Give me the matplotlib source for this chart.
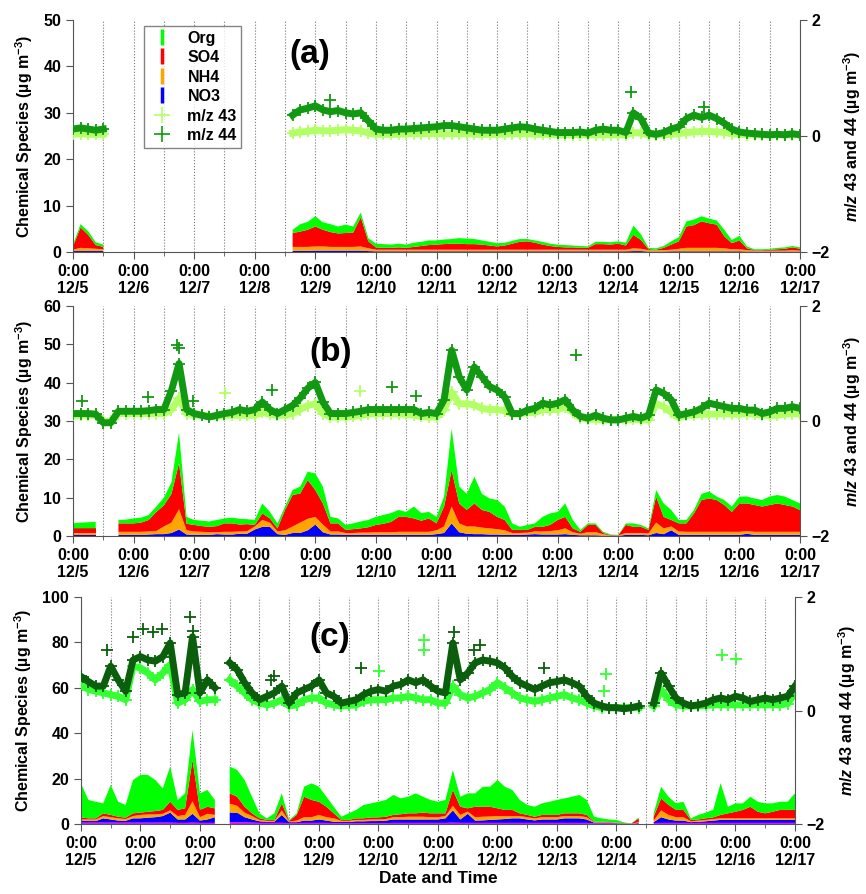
import numpy as np
import matplotlib.pyplot as plt
from matplotlib.lines import Line2D

plt.rcParams['font.family'] = ['Liberation Sans', 'DejaVu Sans']
plt.rcParams['font.weight'] = 'bold'
plt.rcParams['mathtext.fontset'] = 'custom'
plt.rcParams['mathtext.rm'] = 'Liberation Sans:bold'
plt.rcParams['mathtext.it'] = 'Liberation Sans:italic:bold'
plt.rcParams['mathtext.bf'] = 'Liberation Sans:bold'

n = np.nan

# time axis: hours since 12/5 0:00, one value every 3 h
hours = np.arange(0, 289, 3)
day_labels = ['12/%d' % d for d in range(5, 18)]

# ---------------- panel (a) ----------------
a_no3 = [.2, .2, .2, .2, .2, n, n, n,
         n, n, n, n, n, n, n, n,
         n, n, n, n, n, n, n, n,
         n, n, n, n, n, .25, .25, .25,
         .3, .3, .3, .3, .3, .3, .3, .2,
         .15, .15, .15, .15, .15, .15, .15, .15,
         .15, .15, .15, .15, .15, .15, .15, .15,
         .15, .15, .15, .15, .15, .15, .15, .15,
         .15, .15, .15, .15, .15, .15, .15, .15,
         .15, .15, .2, .2, .1, .1, .1, .15,
         .15, .15, .15, .15, .15, .15, .15, .15,
         .15, .1, .1, .1, .1, .1, .1, .1, .1]
a_nh4 = [.3, .7, .6, .5, .4, n, n, n,
         n, n, n, n, n, n, n, n,
         n, n, n, n, n, n, n, n,
         n, n, n, n, n, .85, .85, .85,
         .9, .9, .8, .8, .8, .8, .9, .6,
         .35, .35, .35, .35, .35, .35, .35, .35,
         .35, .35, .35, .35, .35, .35, .35, .35,
         .35, .35, .35, .35, .35, .35, .35, .35,
         .35, .35, .35, .35, .35, .35, .35, .35,
         .35, .35, .6, .5, .3, .3, .3, .35,
         .55, .75, .75, .75, .75, .75, .65, .45,
         .45, .3, .2, .2, .2, .2, .2, .3, .2]
a_so4 = [.7, 4.4, 2.9, .8, .5, n, n, n,
         n, n, n, n, n, n, n, n,
         n, n, n, n, n, n, n, n,
         n, n, n, n, n, 3.0, 3.3, 3.7,
         4.3, 3.6, 3.2, 2.9, 3.0, 3.1, 6.3, 1.5,
         .5, .4, .4, .5, .4, .6, .8, 1.0,
         1.1, 1.2, 1.3, 1.3, 1.2, 1.2, 1.1, .9,
         .7, .9, 1.3, 1.7, 1.8, 1.5, 1.1, .8,
         .6, .5, .5, .4, .4, 1.2, 1.2, 1.1,
         1.3, .9, 2.9, 1.9, .2, .1, .5, 1.1,
         1.6, 4.6, 4.9, 5.7, 5.3, 5.0, 2.6, 1.3,
         1.9, .4, .1, .1, .2, .3, .4, .6, .4]
a_org = [.4, .7, .8, .6, .5, n, n, n,
         n, n, n, n, n, n, n, n,
         n, n, n, n, n, n, n, n,
         n, n, n, n, n, .7, 1.6, 1.7,
         2.2, 1.6, 1.7, 1.5, 1.8, 1.3, 1.0, .7,
         .8, .8, .7, .8, .7, .9, .9, 1.0,
         .9, 1.0, 1.0, 1.2, 1.2, 1.1, .9, .8,
         .7, .6, .6, .6, .5, .5, .6, .5,
         .5, .5, .4, .4, .3, .5, .5, .5,
         .5, .6, 2.0, 1.2, .3, .3, .4, .7,
         .9, 1.1, 1.2, 1.1, 1.0, .9, 1.4, .7,
         1.0, .4, .2, .2, .2, .3, .3, .3, .3]
a_mz43 = [.03, .04, .03, .03, .03, n, n, n,
          n, n, n, n, n, n, n, n,
          n, n, n, n, n, n, n, n,
          n, n, n, n, n, .05, .07, .08,
          .1, .09, .09, .1, .11, .1, .09, .05,
          .03, .03, .03, .03, .04, .04, .04, .04,
          .04, .04, .04, .04, .04, .03, .03, .03,
          .03, .03, .04, .04, .04, .03, .03, .03,
          .02, .02, .02, .02, .02, .02, .02, .02,
          .02, .02, .06, .05, .02, .02, .02, .03,
          .04, .06, .07, .08, .08, .07, .06, .04,
          .03, .02, .02, .02, .02, .02, .02, .02, .02]
a_mz44 = [.12, .14, .12, .1, .12, n, n, n,
          n, n, n, n, n, n, n, n,
          n, n, n, n, n, n, n, n,
          n, n, n, n, n, .36, .45, .48,
          .52, .45, .42, .44, .4, .38, .4, .26,
          .12, .1, .1, .12, .12, .13, .14, .15,
          .16, .18, .18, .16, .14, .12, .1, .1,
          .1, .12, .14, .16, .15, .12, .1, .08,
          .06, .06, .06, .07, .05, .1, .12, .1,
          .1, .06, .4, .3, .05, .03, .06, .12,
          .16, .3, .36, .32, .36, .3, .22, .12,
          .07, .05, .04, .03, .02, .03, .02, .04, .02]
a_out44_h = [221, 102, 250]
a_out44_v = [.76, .62, .5]

# ---------------- panel (b) ----------------
b_no3 = [.3, .3, .3, .3, n, n, .3, .3,
         .3, .3, .4, .5, .5, .8, 1.7, .4,
         .3, .3, .3, .5, .4, .4, .6, .6,
         1.7, 2.4, 2.4, .5, .3, .8, .8, 1.5,
         3, 1, .4, .4, .3, .3, .3, .3,
         .3, .3, .3, .3, .3, .3, .3, .3,
         .5, .8, 3.3, 1, .6, .5, .5, .4,
         .4, .3, .3, .3, .4, .5, .4, .4,
         .4, .5, .3, .2, .2, .2, .1, .1,
         .05, .3, .3, .3, .2, .8, .5, 1.5,
         .3, .3, .3, .3, .3, .3, .3, .3,
         .3, .6, .3, .3, .3, .3, .3, .3, .3]
b_nh4 = [.6, .6, .6, .6, n, n, .8, .8,
         .8, .8, .8, .8, 2.0, 2.7, 5.3, 1.1,
         .9, .8, .7, .5, .7, .7, .6, .7,
         .8, 1.8, 1.1, .7, 1.2, 1.7, 2.7, 3.0,
         2, 2, .8, .8, .5, .5, .6, .6,
         .7, .7, .7, .8, .8, .8, .8, .8,
         1.0, 1.7, 4.4, 2.3, 1.9, 2.0, 1.7, 1.6,
         1.4, 1.2, .5, .5, .5, .7, .8, .9,
         1.1, 1.5, .7, .4, .8, .8, .4, .1,
         .1, .5, .5, .5, .5, 2.7, 1.5, 1.0,
         .9, .8, .8, .8, .8, .8, .8, .8,
         .8, .7, .8, .8, .8, .8, .8, .8, .8]
b_so4 = [1.1, 1.1, 1.1, 1.1, n, n, 2.2, 2.2,
         2.2, 2.4, 3.0, 5.0, 5.5, 7.5, 12, 1.7,
         1.7, 1.5, 1.4, 1.6, 2.2, 2.2, 1.8, 1.8,
         .4, 1.7, 1.1, .8, 5.3, 8.2, 7.6, 10.1,
         7, 5.5, 2.1, 2.1, .8, 1.0, 1.1, 1.4,
         1.9, 2.2, 2.7, 3.9, 3.9, 3.5, 2.9, 3.5,
         1.8, 5.2, 9.5, 5.2, 4.3, 6.0, 4.6, 4.3,
         3.2, 2.7, .8, .8, .7, 1.2, 1.2, 1.6,
         2.7, 3.0, 1.0, .5, 1.9, 1.9, .3, .1,
         .05, 2.1, 1.6, 1.6, .9, 6.8, 3.0, 1.7,
         2.1, 2.2, 4.8, 8.3, 8.7, 8.3, 7.0, 5.2,
         7.4, 7.2, 7.0, 6.6, 7.0, 7.4, 7.0, 6.6, 5.7]
b_org = [1.3, 1.5, 1.6, 1.7, n, n, .9, 1.0,
         1.3, 1.3, 1.3, 1.4, 2.0, 3.0, 8, 1.8,
         1.3, 1.4, 1.4, 1.6, 1.3, 1.5, 1.5, 1.3,
         1.3, 2.6, 1.7, 1.3, .9, 1.3, 1.8, 2.2,
         4.3, 4.4, 1.7, 1.3, 1.3, 1.5, 1.8, 1.9,
         2.1, 2.3, 2.3, 1.8, 1.3, 3.1, 2.0, 1.7,
         1.7, 2.6, 10.8, 4.4, 4.2, 7.0, 4.2, 3.5,
         4.4, 3.5, 1.7, .8, 1.3, .9, 2.6, 3.0,
         2.1, 3.5, 2.2, .5, .4, .4, .3, .1,
         .1, .4, .9, .5, .4, 1.7, 3.5, 2.6,
         .9, .9, .9, 1.6, 1.8, .9, 1.3, 1.4,
         1.8, 1.8, 1.7, 1.7, 2.2, 2.2, 2.2, 1.7, 1.7]
b_mz43 = [.1, .1, .1, .1, 0, 0, .13, .13,
          .13, .13, .13, .13, .13, .2, .4, .13,
          .1, .1, .08, .08, .1, .1, .1, .1,
          .1, .15, .12, .1, .1, .13, .2, .27,
          .3, .13, .07, .07, .07, .08, .1, .12,
          .13, .13, .13, .12, .12, .1, .08, .07,
          .07, .2, .5, .3, .3, .28, .22, .2,
          .2, .18, .12, .12, .15, .15, .2, .2,
          .2, .25, .15, .06, .03, .03, .02, .02,
          .02, .02, .03, .02, .02, .3, .25, .15,
          .06, .1, .1, .12, .12, .12, .13, .12,
          .12, .13, .12, .1, .1, .1, .12, .13, .12]
b_mz44 = [.13, .13, .13, .12, -.03, -.03, .17, .17,
          .17, .17, .18, .2, .2, .53, 1.0, .2,
          .13, .1, .07, .1, .13, .15, .2, .17,
          .2, .33, .2, .13, .2, .27, .4, .57,
          .67, .33, .13, .13, .13, .15, .17, .2,
          .2, .2, .2, .2, .2, .2, .13, .15,
          .13, .37, 1.23, .77, .54, .94, .77, .6,
          .54, .42, .13, .13, .19, .22, .31, .28,
          .31, .37, .19, .08, .05, .1, .05, .02,
          .02, .05, .08, .05, .1, .54, .48, .37,
          .1, .13, .16, .22, .31, .28, .25, .22,
          .22, .19, .19, .13, .16, .22, .22, .25, .22]
b_out44_h = [3.4, 29.8, 41, 42, 47.7, 78.7, 126.3, 136, 199.4]
b_out44_v = [.35, .42, 1.33, 1.27, .34, .54, .6, .44, 1.15]
b_out43_h = [60.2, 113.7]
b_out43_v = [.48, .52]

# ---------------- panel (c) ----------------
c_chl = [.6, .6, .6, .6, .6, .6, .6, .6,
         .6, .6, .6, .6, .6, .5, .5, .6,
         .5, .5, .5, n, .8, .8, .7, .6,
         .5, .5, .5, .5, .4, .4, .5, .5,
         .5, .5, .4, .4, .4, .4, .4, .4,
         .4, .4, .5, .5, .5, .5, .5, .5,
         .5, .5, .6, .5, .5, .5, .5, .5,
         .5, .5, .5, .5, .5, .5, .5, .5,
         .5, .5, .5, .5, .5, .3, .3, .3,
         .3, .1, .05, .3, n, .4, .5, .5,
         .5, .5, .4, .5, .5, .5, .5, .5,
         .5, .5, .5, .5, .5, .5, .5, .5, .5]
c_no3 = [.9, .7, .7, 1.9, 1.4, .9, .8, 1.9,
         1.9, 2.2, 2.4, 2.9, 4.4, 1.5, 1.5, 3.9,
         1.0, 1.5, 2.5, n, 4.2, 4.2, 2.3, 1.4,
         .7, .5, .5, 3.5, .4, .4, 1.0, 1.0,
         1.5, 1.0, .6, .5, .5, .8, .8, .9,
         .9, 1.1, 1.5, 1.5, 1.5, 1.5, 1.5, 1.5,
         1.5, 2.0, 5.4, 1.5, 4.0, 1.0, 1.1, 1.3,
         1.5, 1.7, 2.0, 2.0, 1.5, 1.1, 1.5, 1.5,
         1.5, 2.0, 2.0, 2.0, 1.5, .3, .3, .2,
         .1, .1, .05, .2, n, .4, 2.5, 1.5,
         1.0, 1.0, .4, .5, .7, 1.0, 1.3, 1.3,
         1.3, 1.3, 1.3, 1.3, 1.3, 1.3, 1.3, 1.3, 1.3]
c_nh4 = [.5, .7, .7, 1.0, 1.0, 1.0, .8, 1.0,
         1.5, 1.4, 1.2, 1.0, 1.0, 1.5, 2.0, 5.5,
         1.5, 2.5, 1.0, n, 4.0, 3.0, 2.0, 1.5,
         .6, .4, .4, 2.0, .3, .7, 1.5, 1.5,
         2.0, 1.5, 1.5, .5, .5, .6, .6, .7,
         .7, .7, 1.0, 1.0, 1.2, 1.2, 1.2, 1.0,
         1.0, 1.0, 2.0, 2.0, 1.0, 1.5, 1.6, 1.5,
         1.5, 1.3, 1.0, 1.0, 1.0, .9, 1.0, 1.0,
         1.0, 1.0, 1.0, 1.0, 1.0, .2, .2, .2,
         .1, .1, .05, .3, n, .7, 3.0, 2.0,
         1.5, 1.5, .4, .5, .6, .7, .7, .7,
         .7, .7, .7, .7, .7, .7, .7, .7, .7]
c_so4 = [.9, .5, .5, 1.2, 1.0, .7, .6, 1.2,
         1.0, 1.2, 1.5, 1.7, 3.8, 2.7, 2.9, 18.2,
         3.2, 3.1, 2.9, n, 4.5, 4.0, 2.6, 1.2,
         .7, .4, .4, 3.1, .3, 2.5, 9.0, 7.6,
         5.8, 4.6, 2.2, .4, .4, .7, .7, .9,
         .9, 1.0, 1.0, 1.3, 1.5, 1.5, 1.8, 1.7,
         1.7, 1.2, 7.0, 3.6, 1.4, 4.6, 4.4, 4.3,
         3.4, 2.7, 2.7, 1.2, 1.0, .7, 1.0, 1.0,
         1.0, 1.2, 1.2, 1.2, 1.0, .2, .2, .2,
         .1, .1, .05, 1.7, n, 1.7, 5.3, 4.4,
         3.2, 3.2, .6, .5, .7, .7, 1.5, 2.2,
         2.9, 3.7, 5.1, 2.9, 2.2, 2.9, 3.7, 3.7, 3.7]
c_org = [15.0, 8.1, 7.3, 4.4, 13.2, 6.6, 5.6, 14.7,
         16.6, 16.2, 13.7, 9.5, 15.5, 4.4, 6.6, 13.2,
         7.3, 7.4, 3.7, n, 11.8, 11.8, 11.8, 7.3,
         2.2, .7, 2.9, 4.4, .4, .7, 4.4, 7.3,
         6.6, 4.4, 2.9, 1.4, 2.9, 3.7, 5.9, 6.2,
         6.9, 7.4, 8.8, 7.0, 7.3, 8.8, 7.0, 5.9,
         5.1, 5.9, 8.8, 4.4, 6.6, 5.9, 8.8, 8.8,
         12.5, 10.2, 8.8, 5.9, 4.4, 4.4, 5.1, 5.8,
         6.6, 6.6, 7.3, 8.1, 6.6, 2.2, 1.5, 1.1,
         1.2, .3, .1, .4, n, 1.5, 5.1, 3.6,
         2.9, 3.6, .7, 2.0, 2.5, 3.3, 14.0, 2.9,
         3.7, 2.9, 4.4, 4.4, 4.4, 3.7, 3.6, 3.6, 7.3]
c_mz43 = [.46, .37, .34, .31, .28, .25, .19, .78,
          .75, .66, .54, .66, .81, .13, .19, .37,
          .16, .19, .19, n, .54, .43, .31, .19,
          .13, .1, .13, .19, .08, .1, .19, .22,
          .22, .13, .1, .08, .09, .1, .16, .19,
          .19, .19, .22, .22, .25, .22, .19, .19,
          .13, .13, .43, .28, .22, .25, .31, .37,
          .49, .4, .31, .22, .19, .16, .19, .22,
          .25, .28, .22, .19, .13, .08, .05, .05,
          .05, .05, .05, .05, n, .08, .37, .19,
          .1, .08, .08, .08, .09, .1, .1, .1,
          .1, .1, .1, .1, .1, .1, .1, .12, .31]
c_mz44 = [.6, .51, .43, .43, .78, .54, .34, .89,
          .95, .89, .87, .95, 1.19, .28, .31, 1.3,
          .31, .54, .4, n, .84, .72, .49, .31,
          .19, .25, .31, .43, .13, .31, .37, .43,
          .54, .31, .25, .13, .16, .19, .28, .34,
          .37, .34, .43, .46, .54, .49, .54, .43,
          .34, .31, 1.19, .54, .66, .84, .89, .87,
          .84, .75, .6, .49, .43, .37, .43, .49,
          .51, .54, .49, .43, .25, .13, .08, .05,
          .05, .03, .05, .08, n, .13, .66, .43,
          .22, .13, .08, .1, .13, .19, .22, .19,
          .25, .22, .16, .19, .22, .19, .22, .25, .43]
c_out44_h = [10.4, 20.9, 25.2, 29.2, 32.6, 44, 45, 46, 76.7, 78, 112.9,
             150.5, 158.6, 161, 186.9]
c_out44_v = [1.07, 1.3, 1.43, 1.39, 1.43, 1.64, 1.4, 1.12, .54, .6, .75,
             1.39, 1.07, 1.15, .75]
c_out43_h = [120.3, 138.5, 138.5, 211, 211.8, 258.6, 264.4]
c_out43_v = [.69, 1.25, 1.07, .34, .64, .98, .9]

species_colors = ['#0000ff', '#ffa500', '#ff0000', '#00ff00']
grey = '#555555'


def setup_panel(rect, ymax, ystep, letter, letter_pos):
    ax = fig.add_axes(rect)
    ax.set_xlim(0, 288)
    ax.set_ylim(0, ymax)
    ax.set_yticks(np.arange(0, ymax + 1, ystep))
    ax.set_xticks(np.arange(0, 289, 24))
    ax.set_xticks(np.arange(12, 289, 24), minor=True)
    ax.set_xticklabels(['0:00\n' + d for d in day_labels])
    ax.grid(axis='x', which='both', ls=':', color='#777777', lw=0.8)
    ax.set_axisbelow(True)
    for s in ['top', 'right']:
        ax.spines[s].set_visible(False)
    for s in ['left', 'bottom']:
        ax.spines[s].set_color(grey)
    ax.tick_params(which='both', direction='out', color=grey, labelsize=11.5)
    ax.tick_params(which='major', length=5)
    ax.tick_params(which='minor', length=3)
    ax.set_ylabel('Chemical Species (µg m$^{-3}$)', fontsize=11.5,
                  fontweight='bold', labelpad=6)

    ax2 = ax.twinx()
    ax2.set_ylim(-2, 2)
    ax2.set_yticks([-2, 0, 2])
    for s in ['top', 'left', 'bottom']:
        ax2.spines[s].set_visible(False)
    ax2.spines['right'].set_color(grey)
    ax2.tick_params(direction='out', color=grey, labelsize=11.5, length=5)
    ax2.set_ylabel(r'$\mathit{m/z}$ 43 and 44 (µg m$^{-3}$)', fontsize=11.5,
                   fontweight='bold', labelpad=8)
    ax.text(letter_pos[0], letter_pos[1], letter, transform=ax.transAxes,
            fontsize=24, fontweight='bold', ha='center', va='center')
    return ax, ax2


def draw_mz(ax2, y43, y44, c43, c44):
    # dense crosses drawn over a thick band, like the original scatter
    ax2.plot(hours, y43, color=c43, lw=5, marker='+', ms=9, mew=1.3)
    ax2.plot(hours, y44, color=c44, lw=5, marker='+', ms=9, mew=1.3)


fig = plt.figure(figsize=(8.66, 8.94), dpi=100)

# (a)
ax, ax2 = setup_panel([0.0843, 0.7181, 0.8395, 0.2595], 50, 10, '(a)',
                      (0.326, 0.85))
ax.stackplot(hours, a_no3, a_nh4, a_so4, a_org, colors=species_colors, lw=0)
draw_mz(ax2, a_mz43, a_mz44, '#b3ff66', '#129912')
ax2.plot(a_out44_h, a_out44_v, ls='none', marker='+', ms=9, mew=1.3,
         color='#129912')
handles = [Line2D([], [], ls='none', marker='|', ms=11, mew=2.5, color=c)
           for c in ['#00ff00', '#ff0000', '#ffa500', '#0000ff']]
handles += [Line2D([], [], ls='none', marker='+', ms=11, mew=1.2, color=c)
            for c in ['#b3ff66', '#129912']]
leg = ax2.legend(handles, ['Org', 'SO4', 'NH4', 'NO3', 'm/z 43', 'm/z 44'],
                 loc='upper left', bbox_to_anchor=(0.098, 0.975),
                 fontsize=11.5, frameon=True, fancybox=False,
                 edgecolor='#666666', handlelength=1.6, handletextpad=0.8,
                 labelspacing=0.28, borderpad=0.3, borderaxespad=0)
leg.get_frame().set_linewidth(1.0)

# (b)
ax, ax2 = setup_panel([0.0843, 0.4004, 0.8395, 0.2573], 60, 10, '(b)',
                      (0.354, 0.80))
ax.stackplot(hours, b_no3, b_nh4, b_so4, b_org, colors=species_colors, lw=0)
draw_mz(ax2, b_mz43, b_mz44, '#b3ff66', '#129912')
ax2.plot(b_out43_h, b_out43_v, ls='none', marker='+', ms=9, mew=1.3,
         color='#b3ff66')
ax2.plot(b_out44_h, b_out44_v, ls='none', marker='+', ms=9, mew=1.3,
         color='#129912')

# (c)
ax, ax2 = setup_panel([0.0935, 0.0783, 0.8245, 0.2539], 100, 20, '(c)',
                      (0.349, 0.82))
ax.stackplot(hours, c_chl, c_no3, c_nh4, c_so4, c_org,
             colors=['#ff00ff'] + species_colors, lw=0)
draw_mz(ax2, c_mz43, c_mz44, '#33ff33', '#0b5e0b')
ax2.plot(c_out43_h, c_out43_v, ls='none', marker='+', ms=9, mew=1.3,
         color='#33ff33')
ax2.plot(c_out44_h, c_out44_v, ls='none', marker='+', ms=9, mew=1.3,
         color='#0b5e0b')
ax.set_xlabel('Date and Time', fontsize=12.5, fontweight='bold', labelpad=2)

fig.savefig('out.png', dpi=100, facecolor='white')
